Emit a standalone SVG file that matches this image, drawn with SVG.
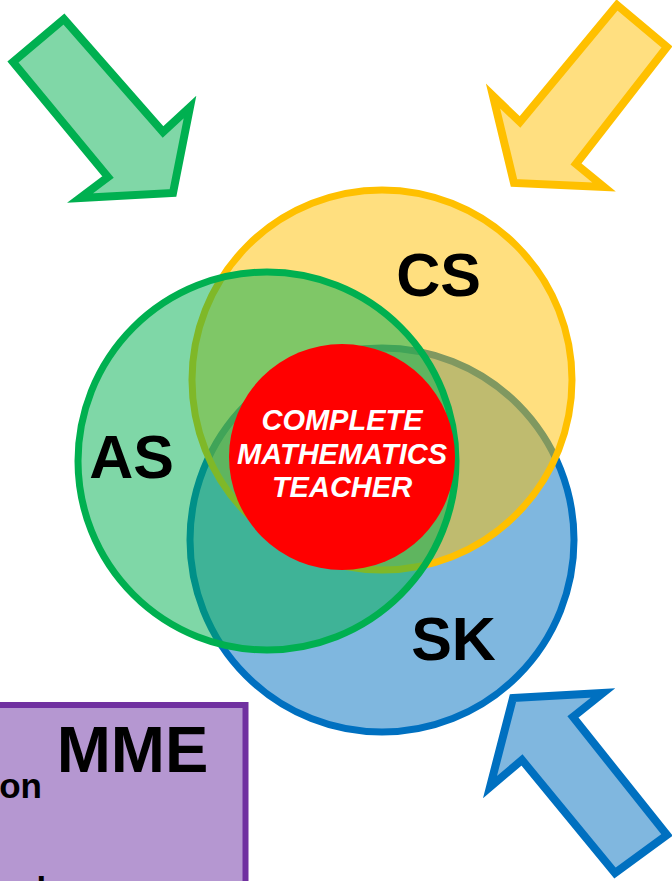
<svg xmlns="http://www.w3.org/2000/svg" width="672" height="881" viewBox="0 0 672 881">
<style>
.lbl{font-family:"Liberation Sans",Arial,sans-serif;font-weight:bold;fill:#000;text-anchor:middle}
.ctr{font-family:"Liberation Sans",Arial,sans-serif;font-weight:bold;font-style:italic;fill:#fff;text-anchor:middle;font-size:29px}
.arrow{stroke-width:8;stroke-linejoin:miter}
</style>
<rect width="672" height="881" fill="#fff"/>
<g id="mme">
<rect x="-10" y="705" width="255.5" height="200" fill="#B597D1" stroke="#7030A0" stroke-width="6"/>
<text class="lbl" x="132.5" y="772" font-size="65">MME</text>
<text class="lbl" x="42" y="798" font-size="35" style="text-anchor:end">on</text>
<text class="lbl" x="-16" y="902" font-size="35" style="text-anchor:start">and</text>
</g>
<g id="sk">
<circle cx="382" cy="540" r="192" fill="#0070C0" fill-opacity="0.5" stroke="#0070C0" stroke-width="7"/>
</g>
<g id="cs">
<circle cx="382" cy="380" r="190" fill="#FFC000" fill-opacity="0.5" stroke="#FFC000" stroke-width="7"/>
</g>
<g id="as">
<circle cx="267" cy="461" r="189" fill="#00B050" fill-opacity="0.5" stroke="#00B050" stroke-width="7"/>
</g>
<g id="center">
<circle cx="342" cy="457" r="113" fill="#FF0000"/>
<text class="ctr" x="342" y="430">COMPLETE</text>
<text class="ctr" x="342" y="463.5">MATHEMATICS</text>
<text class="ctr" x="342" y="497">TEACHER</text>
</g>
<g id="labels">
<text class="lbl" x="438.5" y="296" font-size="61">CS</text>
<text class="lbl" x="131.5" y="478" font-size="61">AS</text>
<text class="lbl" x="453.5" y="660" font-size="61">SK</text>
</g>
<g id="connectors">
<polygon class="arrow" points="64,19 13,62 108,177 80,198 173,193 190,107 163,132" fill="#80D7A7" stroke="#00B050"/>
<polygon class="arrow" points="617,5 667,47 576,164 604,187 514,183 493,96 520,122" fill="#FFDF80" stroke="#FFC000"/>
<polygon class="arrow" points="513,698 603,693 573,717 667,835 615,873 522,760 490,787" fill="#80B7DF" stroke="#0070C0"/>
</g>
</svg>
